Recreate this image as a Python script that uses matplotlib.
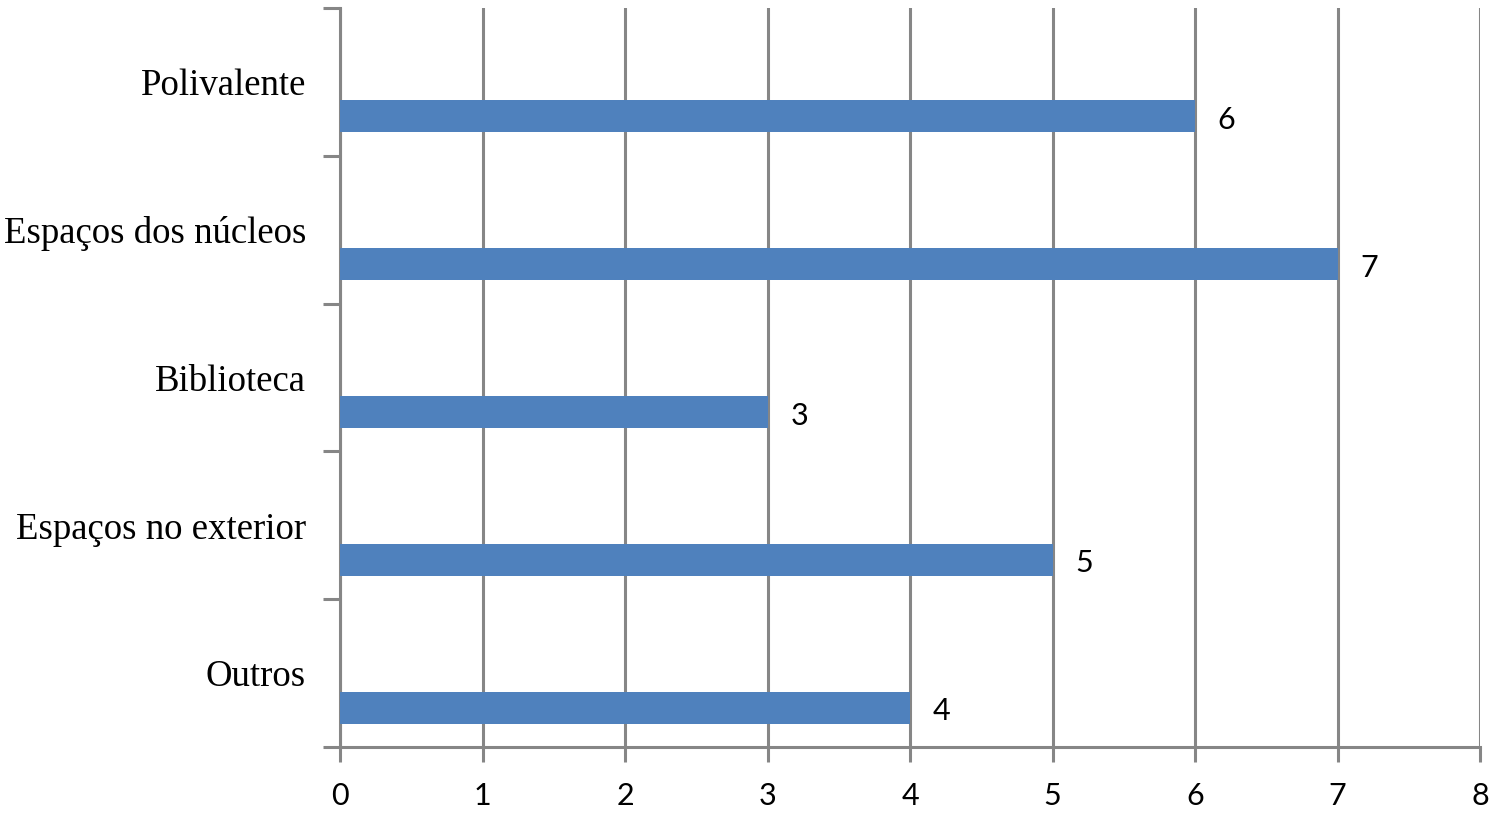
import matplotlib
matplotlib.use("Agg")
import matplotlib.pyplot as plt
import numpy as np

categories = ["Polivalente", "Espaços dos núcleos", "Biblioteca", "Espaços no exterior", "Outros"]
values = [6, 7, 3, 5, 4]
x_ticks = [0, 1, 2, 3, 4, 5, 6, 7, 8]

grey = "#868686"
bar_color = "#4F81BD"

fig = plt.figure(figsize=(15, 8.14), dpi=100)
ax = fig.add_axes([340/1500, 1-747/814, (1480-340)/1500, (747-8)/814])

n = len(categories)
ypos = np.arange(n)[::-1]  # top category highest
offset = 0.233
height = 0.217

ax.barh(ypos - offset, values, height=height, color=bar_color, zorder=3)

for y, v in zip(ypos, values):
    ax.text(v + 0.16, y - offset - 0.025, str(v), va="center", ha="left",
            fontsize=22, family="Lato", color="black")

ax.set_xlim(0, 8)
ax.set_ylim(-0.5, n - 0.5)
ax.set_xticks(x_ticks)
ax.set_xticklabels([str(t) for t in x_ticks], family="Lato", fontsize=22)
ax.grid(axis="x", color=grey, linewidth=2.2, zorder=0)
ax.set_axisbelow(True)

ax.set_yticks(ypos)
ax.set_yticklabels(categories, family="Liberation Serif", fontsize=26.5)
ax.set_yticks(np.arange(-0.5, n, 1.0), minor=True)
ax.tick_params(axis="y", which="major", length=0, pad=24.5)
ax.tick_params(axis="y", which="minor", length=12, width=2.2, color=grey, direction="out")
ax.tick_params(axis="x", which="major", length=11, width=2.2, color=grey, direction="out", pad=14)

for s in ["top", "right"]:
    ax.spines[s].set_visible(False)
for s in ["left", "bottom"]:
    ax.spines[s].set_color(grey)
    ax.spines[s].set_linewidth(2.2)

fig.savefig("out.png", dpi=100, facecolor="white")
